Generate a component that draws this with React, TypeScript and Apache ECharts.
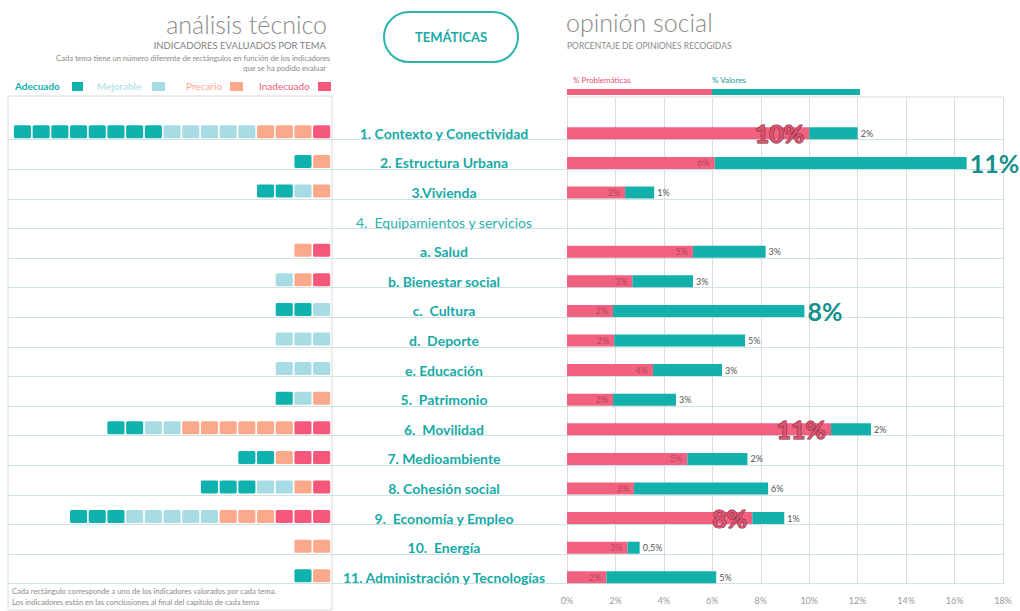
import React, { useEffect, useRef } from "react";
import * as echarts from "echarts";

const themes = [
  "1. Contexto y Conectividad",
  "2. Estructura Urbana",
  "3.Vivienda",
  "4.  Equipamientos y servicios",
  "a. Salud",
  "b. Bienestar social",
  "c.  Cultura",
  "d.  Deporte",
  "e. Educación",
  "5.  Patrimonio",
  "6.  Movilidad",
  "7. Medioambiente",
  "8. Cohesión social",
  "9.  Economía y Empleo",
  "10.  Energía",
  "11. Administración y Tecnologías",
];
const plainRows = [3];

// número de indicadores por estado
const adecuado = [8, 1, 2, 0, 0, 0, 2, 0, 0, 1, 2, 2, 3, 3, 0, 1];
const mejorable = [5, 0, 1, 0, 0, 1, 1, 3, 3, 1, 2, 0, 2, 5, 0, 0];
const precario = [3, 1, 1, 0, 1, 1, 0, 0, 0, 1, 6, 1, 1, 3, 2, 1];
const inadecuado = [1, 0, 0, 0, 1, 1, 0, 0, 0, 0, 2, 2, 1, 3, 0, 0];

// opinión social (%)
const problematicas = [10, 6.1, 2.4, null, 5.2, 2.7, 1.9, 1.95, 3.55, 1.9, 10.9, 4.97, 2.76, 7.65, 2.5, 1.63];
const valores = [2, 10.4, 1.2, null, 3, 2.5, 7.9, 5.4, 2.85, 2.6, 1.65, 2.48, 5.54, 1.32, 0.5, 4.53];
const probLabels = ["10%", "6%", "2%", "", "5%", "3%", "2%", "2%", "4%", "2%", "11%", "5%", "3%", "8%", "3%", "2%"];
const valLabels = ["2%", "11%", "1%", "", "3%", "3%", "8%", "5%", "3%", "3%", "2%", "2%", "6%", "1%", "0,5%", "5%"];
const probBig = [0, 10, 13];
const valBig = [1, 6];

const xTicksMax = 18;
const xTicksStep = 2;

const FONT = "Lato, 'Noto Sans', sans-serif";
const C_TEAL = "#10b2ad";
const C_LIGHT = "#a8dce4";
const C_SALMON = "#fba98b";
const C_PINK = "#f5587b";
const SQUARE_COLORS = [C_TEAL, C_LIGHT, C_SALMON, C_PINK];

export default function App() {
  const ref = useRef<HTMLDivElement>(null);

  useEffect(() => {
    if (!ref.current) return;
    const chart = echarts.init(ref.current, null, { renderer: "svg" });

    // build squares: from right (position 0) -> inadecuado, precario, mejorable, adecuado
    const squares: number[][] = [];
    themes.forEach((_, r) => {
      const seq: number[] = [];
      for (let i = 0; i < inadecuado[r]; i++) seq.push(3);
      for (let i = 0; i < precario[r]; i++) seq.push(2);
      for (let i = 0; i < mejorable[r]; i++) seq.push(1);
      for (let i = 0; i < adecuado[r]; i++) seq.push(0);
      seq.forEach((c, k) => squares.push([k, r, c]));
    });

    const option: any = {
      animation: false,
      textStyle: { fontFamily: FONT },
      grid: [
        { left: 8, width: 995, top: 110, height: 473.6 },
        { left: 567, width: 436, top: 97, height: 487 },
        { left: 567, width: 436, top: 118.5, height: 473.6 },
        { left: 8, width: 323, top: 117, height: 473.6 },
      ],
      xAxis: [
        { gridIndex: 0, type: "value", min: 0, max: 1, show: false },
        {
          gridIndex: 1,
          type: "value",
          min: 0,
          max: xTicksMax,
          interval: xTicksStep,
          axisLine: { show: false },
          axisTick: { show: false },
          splitLine: { show: true, lineStyle: { color: "#dcdcdc", width: 1 } },
          axisLabel: { formatter: "{value}%", color: "#9a9a9a", fontSize: 9, margin: 12, fontFamily: FONT },
        },
        { gridIndex: 2, type: "value", min: 0, max: xTicksMax, show: false },
        { gridIndex: 3, type: "value", min: 0, max: 323 / 18.7, inverse: true, show: false },
      ],
      yAxis: [
        {
          gridIndex: 0,
          type: "category",
          data: themes,
          inverse: true,
          axisLine: { show: false },
          axisTick: { show: false },
          axisLabel: { show: false },
          splitLine: {
            show: true,
            interval: (i: number) => i !== 0,
            lineStyle: { color: "#cfe3e2", width: 1.2 },
          },
        },
        { gridIndex: 1, type: "value", show: false, min: 0, max: 1 },
        {
          gridIndex: 2,
          type: "category",
          data: themes,
          inverse: true,
          axisLine: { show: false },
          axisTick: { show: false },
          splitLine: { show: false },
          axisLabel: {
            align: "center",
            margin: 123,
            formatter: (v: string, i: number) => (plainRows.includes(i) ? `{n|${v}}` : `{b|${v}}`),
            rich: {
              b: { fontFamily: FONT, fontSize: 14, fontWeight: "bold", color: "#17aaa6" },
              n: { fontFamily: FONT, fontSize: 14, color: "#2bb0ac" },
            },
          },
        },
        { gridIndex: 3, type: "category", data: themes, inverse: true, show: false },
      ],
      series: [
        {
          name: "% Problemáticas",
          type: "bar",
          xAxisIndex: 2,
          yAxisIndex: 2,
          stack: "op",
          barWidth: 12,
          data: problematicas,
          itemStyle: { color: "#f2617f" },
          label: {
            show: true,
            position: "insideRight",
            distance: 5,
            formatter: (p: any) =>
              probBig.includes(p.dataIndex) ? `{big|${probLabels[p.dataIndex]}}` : `{s|${probLabels[p.dataIndex]}}`,
            rich: {
              big: {
                fontFamily: FONT,
                fontSize: 25,
                fontWeight: "bold",
                color: "#d9546f",
                textBorderColor: "#6e2435",
                textBorderWidth: 1,
              },
              s: { fontFamily: FONT, fontSize: 9, color: "#b4465d" },
            },
          },
        },
        {
          name: "% Valores",
          type: "bar",
          xAxisIndex: 2,
          yAxisIndex: 2,
          stack: "op",
          barWidth: 12,
          data: valores,
          itemStyle: { color: "#14b0ac" },
          label: {
            show: true,
            position: "right",
            distance: 3,
            formatter: (p: any) =>
              valBig.includes(p.dataIndex) ? `{big|${valLabels[p.dataIndex]}}` : `{s|${valLabels[p.dataIndex]}}`,
            rich: {
              big: { fontFamily: FONT, fontSize: 25, fontWeight: "bold", color: "#16908d" },
              s: { fontFamily: FONT, fontSize: 9, color: "#555555" },
            },
          },
        },
        {
          type: "custom",
          xAxisIndex: 3,
          yAxisIndex: 3,
          data: squares,
          renderItem: (params: any, api: any) => {
            const k = api.value(0);
            const r = api.value(1);
            const c = api.value(2);
            const right = api.coord([k, r]);
            const left = api.coord([k + 1, r]);
            const x = Math.min(left[0], right[0]);
            const w = Math.abs(right[0] - left[0]);
            return {
              type: "rect",
              shape: { x: x + 0.8, y: right[1] - 6.5, width: w - 1.6, height: 13, r: 1.5 },
              style: { fill: SQUARE_COLORS[c] },
            };
          },
        },
      ],
      graphic: [
        // left panel box
        { type: "rect", shape: { x: 8, y: 96, width: 324, height: 514 }, style: { fill: "none", stroke: "#dadada", lineWidth: 1 }, z: 0 },
        { type: "line", shape: { x1: 567, y1: 97, x2: 1003, y2: 97 }, style: { stroke: "#dadada", lineWidth: 1 } },
        // headers left
        { type: "text", x: 327, y: 24, style: { text: "análisis técnico", fontFamily: FONT, fontSize: 25, fontWeight: 300, fill: "#8a8a8a", textAlign: "right", textVerticalAlign: "middle" } },
        { type: "text", x: 326, y: 45, style: { text: "INDICADORES EVALUADOS POR TEMA", fontFamily: FONT, fontSize: 9.5, fill: "#7f7f7f", textAlign: "right", textVerticalAlign: "middle" } },
        { type: "text", x: 330, y: 58, style: { text: "Cada tema tiene un número diferente de rectángulos en función de los indicadores", fontFamily: FONT, fontSize: 7.6, fill: "#8a8a8a", textAlign: "right", textVerticalAlign: "middle" } },
        { type: "text", x: 326, y: 68, style: { text: "que se ha podido evaluar", fontFamily: FONT, fontSize: 7.6, fill: "#8a8a8a", textAlign: "right", textVerticalAlign: "middle" } },
        // legend left
        { type: "text", x: 15, y: 86, style: { text: "Adecuado", fontFamily: FONT, fontSize: 10, fontWeight: "bold", fill: C_TEAL, textVerticalAlign: "middle" } },
        { type: "rect", shape: { x: 72, y: 82, width: 11, height: 9 }, style: { fill: C_TEAL } },
        { type: "text", x: 97, y: 86, style: { text: "Mejorable", fontFamily: FONT, fontSize: 10, fill: C_LIGHT, textVerticalAlign: "middle" } },
        { type: "rect", shape: { x: 152, y: 82, width: 13, height: 9 }, style: { fill: C_LIGHT } },
        { type: "text", x: 186, y: 86, style: { text: "Precario", fontFamily: FONT, fontSize: 10, fill: C_SALMON, textVerticalAlign: "middle" } },
        { type: "rect", shape: { x: 230, y: 82, width: 13, height: 9 }, style: { fill: C_SALMON } },
        { type: "text", x: 259, y: 86, style: { text: "Inadecuado", fontFamily: FONT, fontSize: 10, fill: C_PINK, textVerticalAlign: "middle" } },
        { type: "rect", shape: { x: 318, y: 82, width: 13, height: 9 }, style: { fill: C_PINK } },
        // center pill
        { type: "rect", shape: { x: 384, y: 12, width: 134, height: 50, r: 25 }, style: { fill: "#fff", stroke: "#2ab4af", lineWidth: 2 } },
        { type: "text", x: 451, y: 37, style: { text: "TEMÁTICAS", fontFamily: FONT, fontSize: 13, fontWeight: "bold", fill: "#1aa9a5", textAlign: "center", textVerticalAlign: "middle" } },
        // headers right
        { type: "text", x: 566, y: 22, style: { text: "opinión social", fontFamily: FONT, fontSize: 25, fontWeight: 300, fill: "#8a8a8a", textVerticalAlign: "middle" } },
        { type: "text", x: 567, y: 46, style: { text: "PORCENTAJE DE OPINIONES RECOGIDAS", fontFamily: FONT, fontSize: 8.5, fill: "#8a8a8a", textVerticalAlign: "middle" } },
        { type: "text", x: 573, y: 80, style: { text: "% Problemáticas", fontFamily: FONT, fontSize: 8, fill: "#e8506f", textVerticalAlign: "middle" } },
        { type: "text", x: 712, y: 80, style: { text: "% Valores", fontFamily: FONT, fontSize: 8, fill: "#129c98", textVerticalAlign: "middle" } },
        { type: "rect", shape: { x: 567, y: 89, width: 145, height: 6 }, style: { fill: "#f2617f" } },
        { type: "rect", shape: { x: 712, y: 89, width: 148, height: 6 }, style: { fill: "#14b0ac" } },
        // footnote
        { type: "text", x: 12, y: 591, style: { text: "Cada rectángulo corresponde a uno de los indicadores valorados por cada tema.", fontFamily: FONT, fontSize: 7.6, fill: "#8a8a8a", textVerticalAlign: "middle" } },
        { type: "text", x: 12, y: 602, style: { text: "Los indicadores están en las conclusiones al final del capítulo de cada tema", fontFamily: FONT, fontSize: 7.6, fill: "#8a8a8a", textVerticalAlign: "middle" } },
      ],
    };

    chart.setOption(option);
    return () => chart.dispose();
  }, []);

  return (
    <div
      ref={ref}
      style={{ position: "fixed", left: 0, top: 0, width: 1020, height: 611, background: "#ffffff" }}
    />
  );
}
